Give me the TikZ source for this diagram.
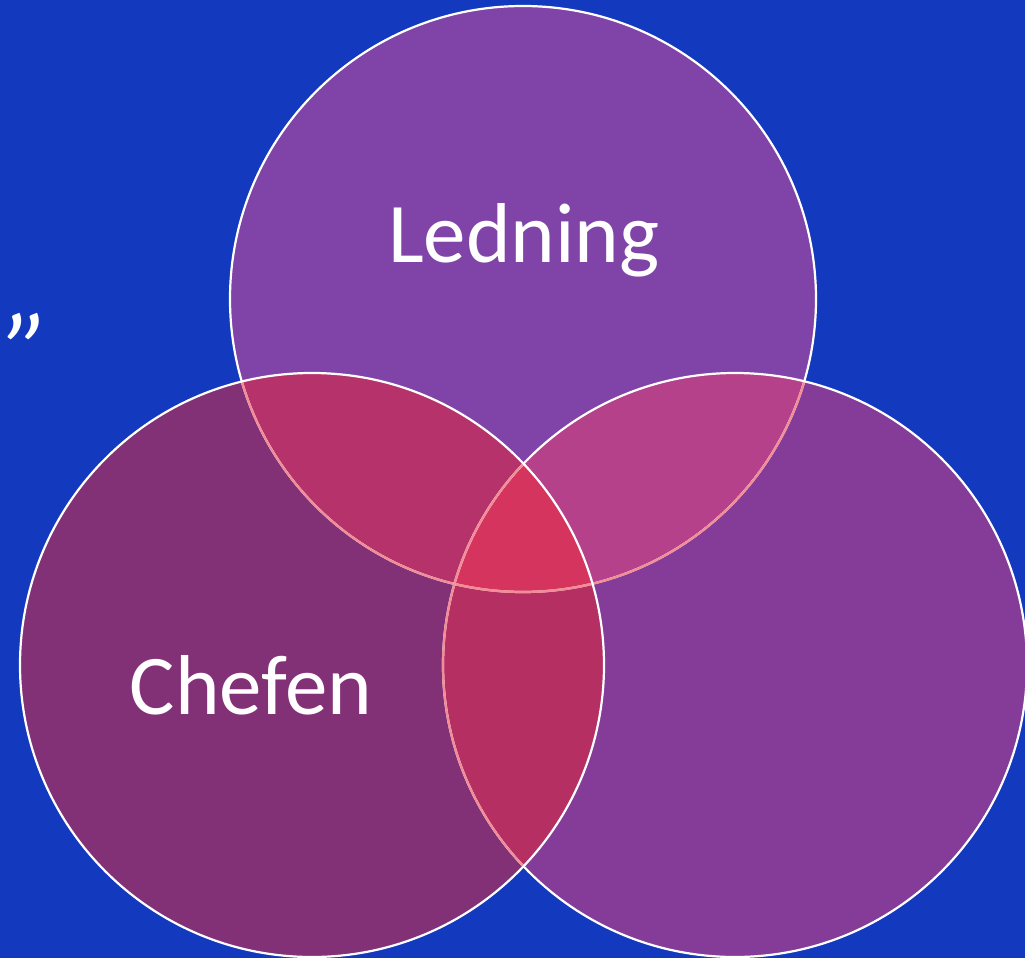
\documentclass[tikz,border=0pt]{standalone}
\usepackage{fontspec}
\setmainfont{Carlito}
\definecolor{bg}{HTML}{1339BE}
\definecolor{ctop}{HTML}{8044A8}
\definecolor{cleft}{HTML}{833177}
\definecolor{cright}{HTML}{843C98}
\definecolor{ctl}{HTML}{B5336A}
\definecolor{ctr}{HTML}{B5418B}
\definecolor{clr}{HTML}{B52F63}
\definecolor{call}{HTML}{D4345E}
\definecolor{pinkline}{HTML}{F28C96}
\tikzset{
  outline/.style={draw=white,line width=2.2pt},
  inline/.style={draw=pinkline,line width=2.2pt},
  label/.style={text=white,font=\fontsize{85}{100}\selectfont}
}
\begin{document}
\begin{tikzpicture}[x=1pt,y=-1pt]
\fill[bg] (0,0) rectangle (1025,958);
\useasboundingbox (0,0) rectangle (1025,958);
\def\topc{(523,299) circle (293)}
\def\leftc{(312,665) circle (292)}
\def\rightc{(735,665) circle (292)}
% single regions
\fill[ctop] \topc;
\fill[cright] \rightc;
\fill[cleft] \leftc;
% pairwise
\begin{scope}\clip \topc; \fill[ctl] \leftc; \fill[ctr] \rightc; \end{scope}
\begin{scope}\clip \leftc; \fill[clr] \rightc; \end{scope}
\begin{scope}\clip \topc; \clip \leftc; \fill[call] \rightc; \end{scope}
% outlines: top, then right, then left
\draw[outline] \topc;
\begin{scope}\clip \leftc; \draw[inline] \topc; \end{scope}
\begin{scope}\clip \rightc; \draw[inline] \topc; \end{scope}
\draw[outline] \rightc;
\begin{scope}\clip \leftc; \draw[inline] \rightc; \end{scope}
\draw[outline] \leftc;
% labels
\node[label] (ledning) at (524,240) {Ledning};
\node[label] (chefen) at (251,685) {Chefen};
\node[text=white,anchor=base east,font=\fontsize{110}{120}\selectfont\itshape] (quote) at (54,389) {”};
\end{tikzpicture}
\end{document}
